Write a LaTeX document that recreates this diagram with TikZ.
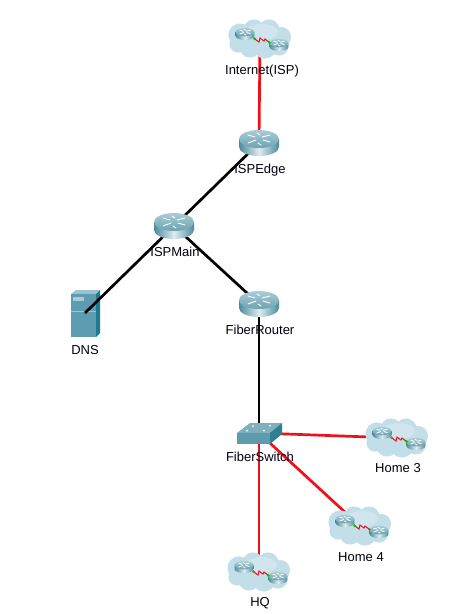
\documentclass[tikz,border=0pt]{standalone}
\usepackage{fontspec}
\setmainfont{Liberation Sans}
\definecolor{linkred}{HTML}{F0101A}
\definecolor{rtDark}{HTML}{4E8A9B}
\definecolor{rtMid}{HTML}{DCECF0}
\definecolor{rtTopA}{HTML}{A9CDD7}
\definecolor{rtTopB}{HTML}{6CA2B1}
\definecolor{cloudFill}{HTML}{C2DEE9}
\definecolor{cloudEdge}{HTML}{C9E0E9}
\definecolor{cloudLight}{HTML}{D0E5ED}
\definecolor{swTop}{HTML}{7FB0BE}
\definecolor{swFront}{HTML}{5E9BAE}
\definecolor{swSide}{HTML}{2F7F92}
\definecolor{srvTop}{HTML}{9CC3CE}
\definecolor{srvFront}{HTML}{5E9DB1}
\definecolor{srvSide}{HTML}{1F7A90}
\definecolor{srvSlot}{HTML}{A9CBD6}
\tikzset{
  x=1pt,y=-1pt,
  redlink/.style={draw=linkred,line width=2.7pt},
  blacklink/.style={draw=black,line width=2.7pt},
  lbl/.style={font=\fontsize{13}{15}\selectfont,text=black!92!blue,inner sep=0pt,anchor=center},
  routericon/.pic={
    \path[left color=rtDark,right color=rtDark,middle color=rtMid]
      (-20,-4) -- (-20,4) arc[start angle=180,end angle=0,x radius=20,y radius=9]
      -- (20,-4) -- cycle;
    \path[top color=rtTopA,bottom color=rtTopB] (0,-4) ellipse[x radius=20,y radius=9];
    \draw[white,line width=0.9pt,line cap=round]
      (-11,-8) -- (-4,-6) (11,-1) -- (4,-3) (-11,0) -- (-3,-3) (11,-8) -- (3,-6)
      (-2,-10) -- (1,-8) (2,2) -- (-1,0);
  },
  cloudicon/.pic={
    \foreach \cx/\cy/\r in {-20/-4/11,-6/-9/10,9/-9/10,21/-2/9.5,19/7/9,5/8/11,-10/8/10,-22/5/8}
      {\fill[cloudEdge] (\cx,\cy) circle[radius=\r+0.6];}
    \foreach \cx/\cy/\r in {-20/-4/11,-6/-9/10,9/-9/10,21/-2/9.5,19/7/9,5/8/11,-10/8/10,-22/5/8}
      {\fill[cloudFill] (\cx,\cy) circle[radius=\r];}
    \fill[cloudLight] (2,-7) ellipse[x radius=16,y radius=8];
    \pic[scale=0.47] at (-15,-5) {routericon};
    \pic[scale=0.47] at (19,6) {routericon};
    \draw[linkred,line width=1pt] (-5,0) -- (-1,3) -- (0,-1) -- (4,2) -- (5,0) -- (9,3);
    \fill[green!80!black] (-5.5,-0.5) circle[radius=1.5] (9.5,3.5) circle[radius=1.5];
  },
}
\begin{document}
\begin{tikzpicture}
\useasboundingbox (0,0) rectangle (476,614);
\fill[white] (0,0) rectangle (476,614);
\coordinate (internet) at (260,39);
\coordinate (ispedge) at (259,143);
\coordinate (ispmain) at (174,226);
\coordinate (dns) at (85,313);
\coordinate (fiberrouter) at (259,304);
\coordinate (fiberswitch) at (259,433);
\coordinate (home3) at (397,438);
\coordinate (home4) at (360,526);
\coordinate (hq) at (259,572);

% DNS server
\fill[srvTop] (71,294) -- (76,290) -- (100,290) -- (96,294) -- cycle;
\fill[srvFront] (71,294) rectangle (96,337);
\fill[srvSide] (96,294) -- (100,290) -- (100,333) -- (96,337) -- cycle;
\fill[srvSlot] (73,297) rectangle (84,301);
\draw[srvTop,line width=0.5pt] (71,311) -- (96,311);

\draw[redlink] (internet) -- (ispedge);
\draw[blacklink] (ispedge) -- (ispmain);
\draw[blacklink] (ispmain) -- (fiberrouter);
\draw[blacklink] (ispmain) -- (dns);
\draw[blacklink] (fiberrouter) -- (fiberswitch);
\draw[redlink] (fiberswitch) -- (home3);
\draw[redlink] (fiberswitch) -- (home4);
\draw[redlink] (fiberswitch) -- (hq);

\pic at (internet) {cloudicon};
\pic at (home3) {cloudicon};
\pic at (home4) {cloudicon};
\pic at (hq) {cloudicon};
\pic at (ispedge) {routericon};
\pic at (ispmain) {routericon};
\pic at (fiberrouter) {routericon};

% FiberSwitch
\fill[swTop] (237,433) -- (250,423) -- (282,423) -- (270,433) -- cycle;
\fill[swFront] (237,433) -- (270,433) -- (270,444) -- (237,444) -- cycle;
\fill[swSide] (270,433) -- (282,423) -- (282,434) -- (270,444) -- cycle;
\fill[white] (253,426) circle[radius=1] (270,425.5) circle[radius=1] (247,430.5) circle[radius=1] (264,430.5) circle[radius=1];

\node[lbl] (lblinternet) at (262,71) {Internet(ISP)};
\node[lbl] (lblispedge) at (260,170) {ISPEdge};
\node[lbl] (lblispmain) at (175,252) {ISPMain};
\node[lbl] (lbldns) at (85,350) {DNS};
\node[lbl] (lblfiberrouter) at (260,330) {FiberRouter};
\node[lbl] (lblfiberswitch) at (260,457) {FiberSwitch};
\node[lbl] (lblhome3) at (398,468) {Home 3};
\node[lbl] (lblhome4) at (361,557) {Home 4};
\node[lbl] (lblhq) at (260,603) {HQ};
\end{tikzpicture}
\end{document}
